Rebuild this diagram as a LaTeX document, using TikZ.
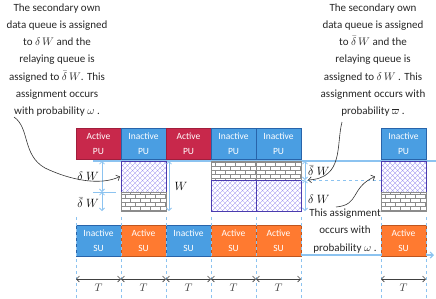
\documentclass[tikz,border=0pt]{standalone}
\usepackage{fontspec}
\setmainfont{Carlito}
\usepackage{tikz}
\usetikzlibrary{arrows.meta,patterns,positioning}

\definecolor{activered}{RGB}{200,40,75}
\definecolor{activeredline}{RGB}{160,30,60}
\definecolor{inactiveblue}{RGB}{74,158,226}
\definecolor{inactiveblueline}{RGB}{40,100,170}
\definecolor{activeorange}{RGB}{255,122,48}
\definecolor{activeorangeline}{RGB}{190,85,30}
\definecolor{queuepurple}{RGB}{75,60,175}
\definecolor{hatchpurple}{RGB}{165,155,240}
\definecolor{brickgray}{RGB}{140,140,140}
\definecolor{guideblue}{RGB}{140,195,240}

\pgfdeclarepatternformonly{smallbricks}{\pgfqpoint{-1pt}{-1pt}}{\pgfqpoint{11pt}{9pt}}{\pgfqpoint{10pt}{8pt}}{
  \pgfsetlinewidth{0.6pt}
  \pgfpathmoveto{\pgfqpoint{0pt}{0pt}}\pgfpathlineto{\pgfqpoint{10pt}{0pt}}
  \pgfpathmoveto{\pgfqpoint{0pt}{4pt}}\pgfpathlineto{\pgfqpoint{10pt}{4pt}}
  \pgfpathmoveto{\pgfqpoint{0pt}{0pt}}\pgfpathlineto{\pgfqpoint{0pt}{4pt}}
  \pgfpathmoveto{\pgfqpoint{5pt}{4pt}}\pgfpathlineto{\pgfqpoint{5pt}{8pt}}
  \pgfusepath{stroke}}
\pgfdeclarepatternformonly{lightcross}{\pgfqpoint{-1pt}{-1pt}}{\pgfqpoint{6pt}{6pt}}{\pgfqpoint{5pt}{5pt}}{
  \pgfsetlinewidth{0.35pt}
  \pgfpathmoveto{\pgfqpoint{0pt}{0pt}}\pgfpathlineto{\pgfqpoint{5pt}{5pt}}
  \pgfpathmoveto{\pgfqpoint{0pt}{5pt}}\pgfpathlineto{\pgfqpoint{5pt}{0pt}}
  \pgfusepath{stroke}}

\begin{document}
\begin{tikzpicture}[x=1pt, y=-1pt,
    slot/.style={rectangle, draw, line width=1pt, outer sep=0pt, minimum width=45pt, minimum height=31pt, inner sep=0pt, text=white, align=center, font=\fontsize{9.5}{15}\selectfont},
    activepu/.style={slot, fill=activered, draw=activeredline},
    inactive/.style={slot, fill=inactiveblue, draw=inactiveblueline},
    activesu/.style={slot, fill=activeorange, draw=activeorangeline},
    ownq/.style={rectangle, draw=queuepurple, line width=1pt, outer sep=0pt, pattern=lightcross, pattern color=hatchpurple, minimum width=45pt, minimum height=31pt, inner sep=0pt},
    relayq/.style={rectangle, draw=brickgray, line width=1pt, outer sep=0pt, pattern=smallbricks, pattern color=brickgray, minimum width=45pt, minimum height=19pt, inner sep=0pt},
    guide/.style={guideblue, dashed, line width=0.6pt},
    dim/.style={guideblue, line width=0.8pt, {Straight Barb[length=2.5pt,width=5pt]}-{Straight Barb[length=2.5pt,width=5pt]}},
    period/.style={black!75, line width=0.6pt, {Straight Barb[length=3pt,width=6pt]}-{Straight Barb[length=3pt,width=6pt]}},
    note/.style={align=center, text=black!85, font=\fontsize{11}{17.3}\selectfont},
    label/.style={font=\fontsize{13}{15}\selectfont, inner sep=1pt},
    arrow/.style={black!80, line width=0.6pt, -{Straight Barb[length=3pt,width=6pt]}}]

    \useasboundingbox (0,0) rectangle (436,298);

    % Time axes
    \draw[guideblue, line width=1.5pt] (93,161) -- (436,161);
    \draw[guideblue, line width=1.2pt, -{Straight Barb[length=3pt,width=6pt]}] (76,255) -- (434,255);

    % PU slots
    \node[activepu] (pu1) at (98.5,143.5) {Active\\PU};
    \node[inactive, right=0pt of pu1] (pu2) {Inactive\\PU};
    \node[activepu, right=0pt of pu2] (pu3) {Active\\PU};
    \node[inactive, right=0pt of pu3] (pu4) {Inactive\\PU};
    \node[inactive, right=0pt of pu4] (pu5) {Inactive\\PU};
    \node[inactive] (pu6) at (403.5,143.5) {Inactive\\PU};

    % Queues
    \node[ownq, below=2pt of pu2] (own2) {};
    \node[relayq, below=0pt of own2] (relay2) {};
    \node[relayq, below=2pt of pu4] (relay4) {};
    \node[ownq, below=0pt of relay4] (own4) {};
    \node[relayq, below=2pt of pu5] (relay5) {};
    \node[ownq, below=0pt of relay5] (own5) {};
    \node[ownq, below=2pt of pu6] (own6) {};
    \node[relayq, below=0pt of own6] (relay6) {};

    % SU slots
    \node[inactive] (su1) at (98.5,240.5) {Inactive\\SU};
    \node[activesu, right=0pt of su1] (su2) {Active\\SU};
    \node[inactive, right=0pt of su2] (su3) {Inactive\\SU};
    \node[activesu, right=0pt of su3] (su4) {Active\\SU};
    \node[activesu, right=0pt of su4] (su5) {Active\\SU};
    \node[activesu] (su6) at (403.5,240.5) {Active\\SU};

    % Slot boundaries and durations
    \foreach \s in {su1,su2,su3,su4,su5,su6} {
        \draw[guide] (\s.west |- 0,217) -- (\s.west |- 0,298);
        \draw[period] (\s.west |- 0,279) -- (\s.east |- 0,279) node[midway, below=1pt, font=\fontsize{11}{13}\selectfont] {$T$};
    }
    \draw[guide] (su5.east |- 0,217) -- (su5.east |- 0,298);
    \draw[guide] (su6.east |- 0,217) -- (su6.east |- 0,298);
    \draw[guide] (relay5.south east) -- (own6.west |- relay5.south east);

    % Queue sizes
    \draw[dim] ([xshift=-19pt]own2.north west) -- ([xshift=-19pt]own2.south west);
    \draw[dim] ([xshift=-19pt]relay2.north west) -- ([xshift=-19pt]relay2.south west);
    \draw[guideblue, line width=0.8pt] ([xshift=-28pt]own2.south west) -- ([xshift=-5pt]own2.south west);
    \node[label, anchor=east] (dl) at (100,176) {$\delta\ W$};
    \node[label, anchor=east] (dbl) at (100,203) {$\bar{\delta}\ W$};
    \draw[dim] ([xshift=3pt]own2.north east) -- ([xshift=3pt]relay2.south east);
    \node[label] (w) at (181,186) {$W$};
    \draw[dim] ([xshift=4pt]relay5.north east) -- ([xshift=4pt]relay5.south east);
    \draw[dim] ([xshift=4pt]own5.north east) -- ([xshift=4pt]own5.south east);
    \node[label, anchor=west] (dbr) at (307,171) {$\bar{\delta}\ W$};
    \node[label, anchor=west] (dr) at (307,199) {$\delta\ W$};

    % Notes
    \node[note] (leftnote) at (57,60) {The secondary own\\data queue is assigned\\to $\delta\,W$ and the\\relaying queue is\\assigned to $\bar{\delta}\,W$.  This\\assignment occurs\\with probability $\omega$ .};
    \node[note] (rightnote) at (373,60) {The secondary own\\data queue is assigned\\to $\bar{\delta}\,W$ and the\\relaying queue is\\assigned to $\delta\,W$ . This\\assignment occurs with\\probability $\overline{\omega}$ .};
    \node[note] (midnote) at (345,231) {This assignment\\occurs with\\probability $\omega$ .};

    % Pointers
    \coordinate (lefttail) at (14,117);
    \coordinate (righttail) at (342,122);
    \coordinate (midtail) at (336,207);
    \draw[arrow] (lefttail) .. controls (30,128) and (22,155) .. (45,168) .. controls (70,180) and (100,186) .. ([xshift=-1pt]own2.west);
    \draw[arrow] (righttail) .. controls (336,145) and (344,178) .. ([xshift=7pt]own5.north east);
    \draw[arrow] (midtail) .. controls (360,205) and (350,188) .. ([xshift=-6pt]own6.west);

\end{tikzpicture}
\end{document}
